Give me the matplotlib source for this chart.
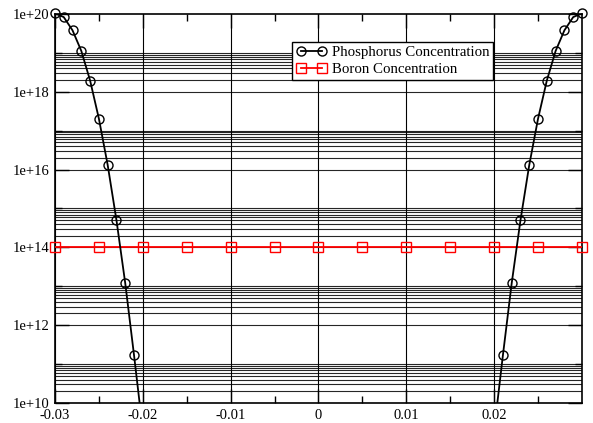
import matplotlib
matplotlib.use('Agg')
import matplotlib.pyplot as plt
import numpy as np
from matplotlib.ticker import FixedLocator, FuncFormatter

plt.rcParams['font.family'] = 'Liberation Serif'
plt.rcParams['mathtext.fontset'] = 'stix'

# Phosphorus profile (left branch, mirrored on the right), log10 of concentration
p_x_left = [-0.030, -0.029, -0.028, -0.027, -0.026, -0.025, -0.024,
            -0.023, -0.022, -0.021, -0.020]
p_log_left = [20.02, 19.92, 19.58, 19.05, 18.29, 17.31, 16.12,
              14.70, 13.08, 11.23, 9.30]
p_x = p_x_left + [-v for v in p_x_left[::-1]]
p_y = [10 ** v for v in p_log_left + p_log_left[::-1]]

# Boron background
b_x = [-0.030, -0.025, -0.020, -0.015, -0.010, -0.005, 0.0,
       0.005, 0.010, 0.015, 0.020, 0.025, 0.030]
b_y = [1e14] * len(b_x)

x_ticks = [-0.03, -0.02, -0.01, 0, 0.01, 0.02]
x_labels = ['-0.03', '-0.02', '-0.01', '0', '0.01', '0.02']
y_major = [1e10, 1e12, 1e14, 1e16, 1e18, 1e20]

fig = plt.figure(figsize=(5.93, 4.23), dpi=100)
ax = fig.add_axes([0.0927, 0.0473, 0.8887, 0.9196])

ax.set_yscale('log')
ax.set_xlim(-0.03, 0.03)
ax.set_ylim(1e10, 1e20)

# horizontal grid: every decade, plus 2..9 within the even decades
grid_y = []
for d in range(10, 20):
    grid_y.append(10.0 ** d)
    if d % 2 == 0:
        grid_y += [k * 10.0 ** d for k in range(2, 10)]
for gy in grid_y:
    ax.axhline(gy, color='black', lw=0.8, alpha=0.85, zorder=0)
for gx in x_ticks:
    ax.axvline(gx, color='black', lw=0.8, zorder=0)

ax.plot(b_x, b_y, color='red', lw=1.3, zorder=3)
ax.plot(b_x, b_y, ls='none', marker='s', ms=6.5, mfc='none', mec='red',
        mew=1.0, zorder=3, clip_on=False)
ax.plot(p_x, p_y, color='black', lw=1.3, zorder=4)
vis = [i for i, v in enumerate(p_y) if v >= 1e10]
ax.plot([p_x[i] for i in vis], [p_y[i] for i in vis], ls='none', marker='o',
        ms=6.5, mfc='none', mec='black', mew=1.0, zorder=4, clip_on=False)

ax.xaxis.set_major_locator(FixedLocator(x_ticks))
ax.set_xticklabels(x_labels)
ax.xaxis.set_minor_locator(FixedLocator(np.arange(-0.025, 0.03, 0.01)))
ax.yaxis.set_major_locator(FixedLocator(y_major))
ax.yaxis.set_minor_locator(FixedLocator([1e11, 1e13, 1e15, 1e17, 1e19]))
ax.yaxis.set_major_formatter(FuncFormatter(lambda v, p: '1e+%d' % round(np.log10(v))))
ax.yaxis.set_minor_formatter(FuncFormatter(lambda v, p: ''))

ax.tick_params(which='both', direction='in', top=True, right=True,
               labelsize=10.5, colors='black', pad=4)
ax.tick_params(which='major', length=10, width=1)
ax.tick_params(which='minor', length=5, width=1)
for s in ax.spines.values():
    s.set_linewidth(1.2)

h_p = plt.Line2D([], [], color='black', lw=1.3, marker='o', ms=6.5,
                 mfc='none', mec='black', mew=1.0)
h_b = plt.Line2D([], [], color='red', lw=1.3, marker='s', ms=6.5,
                 mfc='none', mec='red', mew=1.0)
leg = ax.legend([h_p, h_b], ['Phosphorus Concentration', 'Boron Concentration'],
                loc='upper left', bbox_to_anchor=(0.45, 0.929), numpoints=2,
                fontsize=10.7, fancybox=False, framealpha=1, edgecolor='black',
                borderpad=0.3, handlelength=2.0, handletextpad=0.35,
                labelspacing=0.2, borderaxespad=0)
leg.get_frame().set_linewidth(1.0)
leg.set_zorder(10)

fig.savefig('out.png', dpi=100)
